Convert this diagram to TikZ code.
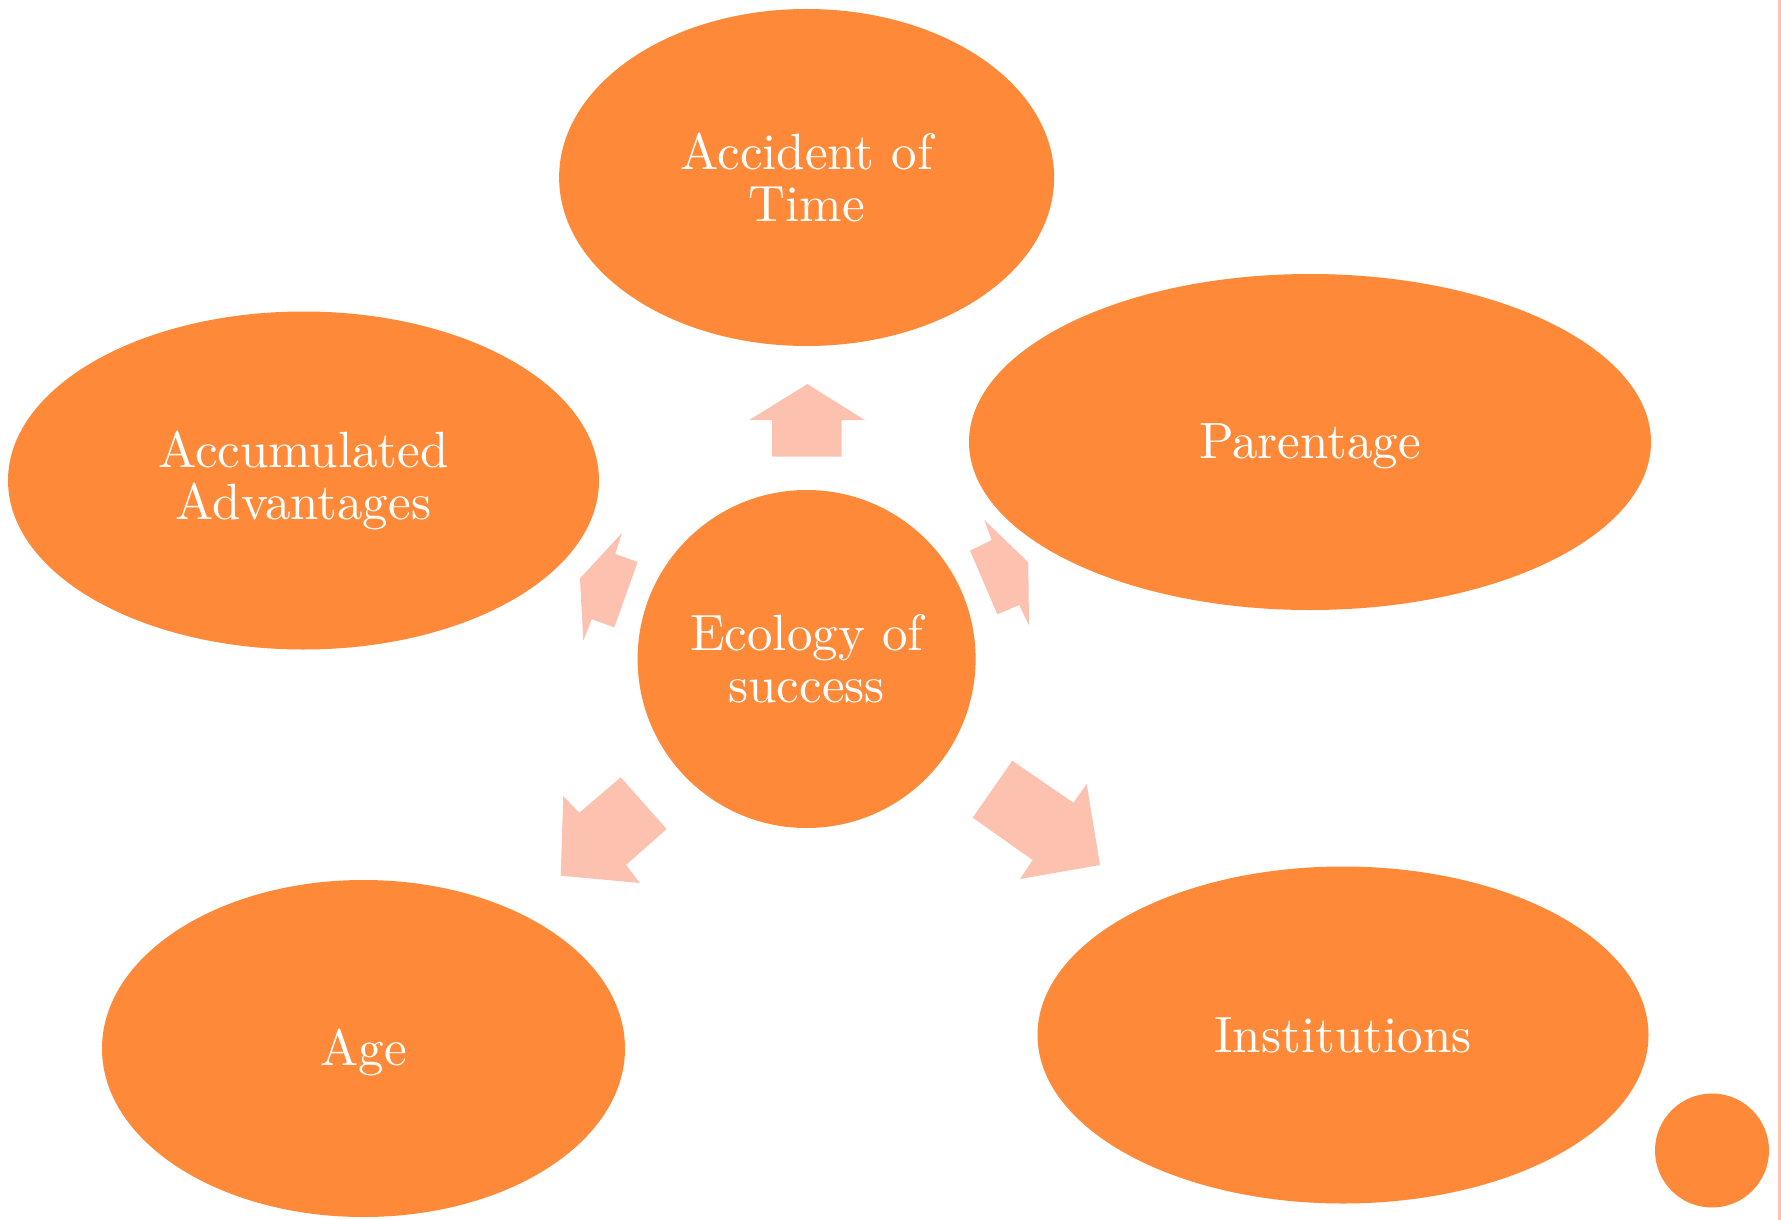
\documentclass[tikz,border=0pt]{standalone}
\usepackage{fontspec}
\setmainfont{lmroman10-regular.otf}
\usepackage{xcolor}
\usepackage{tikz}
\usetikzlibrary{shapes.geometric}
\definecolor{petal}{HTML}{FD8939}
\definecolor{pale}{HTML}{FCC2AF}

\tikzset{
  bubble/.style={ellipse, fill=petal, text=white, align=center, inner sep=0pt,
    font=\fontsize{51}{52}\selectfont},
  blockarrow/.style={fill=pale}
}

\begin{document}
\begin{tikzpicture}[x=1pt, y=-1pt]
      \useasboundingbox (0,0) rectangle (1781,1220);

      % Draw the middle circle
      \node[bubble, circle, minimum size=338pt] (ecology) at (806.6,659) {Ecology of\\success};

      % Draw the outer ellipses
      \node[bubble, minimum width=495pt, minimum height=337pt] (time) at (806.6,177.5) {Accident of\\Time};
      \node[bubble, minimum width=682pt, minimum height=336pt, text depth=2pt] (parent) at (1310,442) {Parentage};
      \node[bubble, minimum width=591pt, minimum height=338pt] (accum) at (303.5,480.5) {Accumulated\\Advantages};
      \node[bubble, minimum width=523pt, minimum height=337pt, text depth=2pt] (age) at (363.5,1048.5) {Age};
      \node[bubble, minimum width=611pt, minimum height=337pt] (inst) at (1343,1035) {Institutions};

      % Draw small circle in the corner
      \node[circle, fill=petal, minimum size=114pt, inner sep=0pt] (dot) at (1712,1150.5) {};

      % Draw block arrows
      \fill[blockarrow] (807.3,384) -- (864.7,420) -- (841.7,420) -- (841.7,456.7)
        -- (772,456.7) -- (772,420) -- (749.3,420) -- cycle;
      \fill[blockarrow] (622,533) -- (615.3,554) -- (637.7,562) -- (614.3,627.3)
        -- (591.7,619.3) -- (583.3,640.7) -- (580,578.3) -- cycle;
      \fill[blockarrow] (984.3,520) -- (1028.3,562.3) -- (1029,625.7) -- (1019.3,605)
        -- (997.3,614.3) -- (970,550.7) -- (991.7,540) -- cycle;
      \fill[blockarrow] (620.7,777.3) -- (666.7,829) -- (626,865) -- (640,883)
        -- (560.7,875.7) -- (563.3,796) -- (579.3,812.7) -- cycle;
      \fill[blockarrow] (1012.3,760.7) -- (1073.3,802.7) -- (1086.7,784) -- (1100,865)
        -- (1020,879) -- (1032.7,860) -- (972.7,817.7) -- cycle;

      % Draw line at the right edge
      \draw[pale, line width=2.6pt] (1779.4,0) -- (1779.4,1220);
\end{tikzpicture}
\end{document}
